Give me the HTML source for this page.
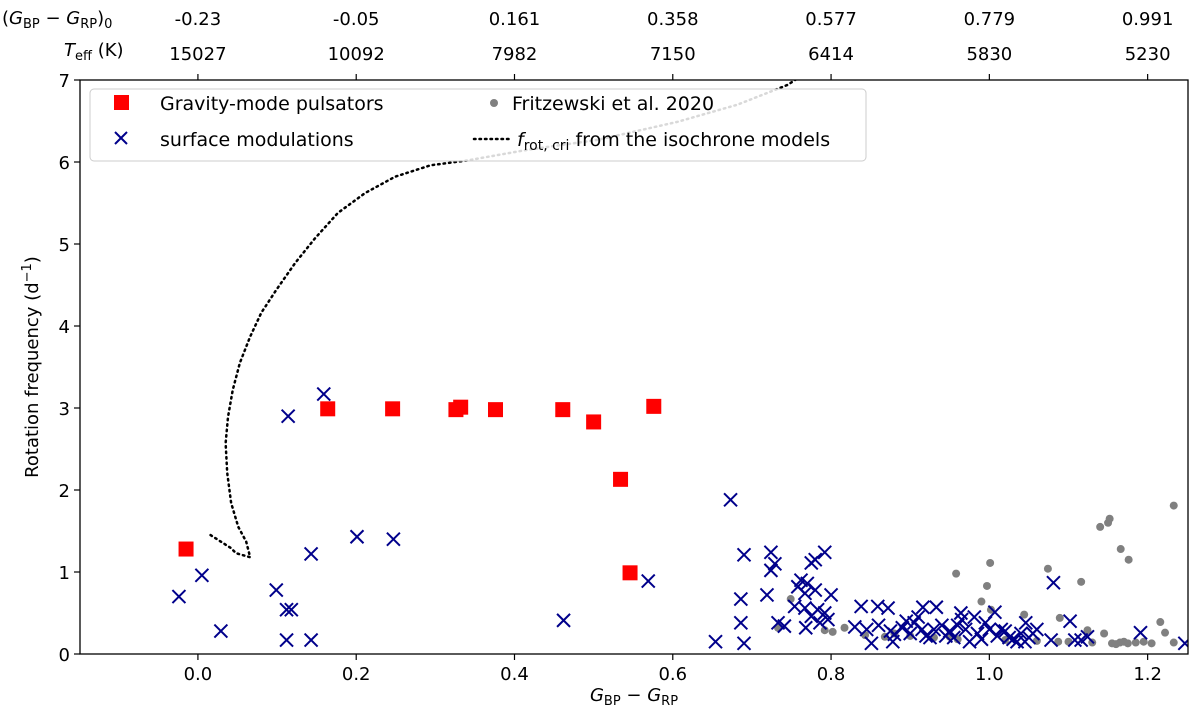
<!DOCTYPE html>
<html><head><meta charset="utf-8"><style>
body{margin:0;background:#fff;}
svg{display:block;font-family:"DejaVu Sans","Liberation Sans",sans-serif;}
</style></head><body>
<svg id="chart" width="1200" height="725" viewBox="0 0 1200 725" xmlns="http://www.w3.org/2000/svg">
<defs><clipPath id="clip"><rect x="80" y="80" width="1108" height="574"/></clipPath></defs>
<g id="plot" clip-path="url(#clip)"></g>
<g id="axes"></g>
<g font-family="DejaVu Sans, Liberation Sans, sans-serif">
<text x="634" y="701" font-size="18" text-anchor="middle"><tspan font-style="italic">G</tspan><tspan font-size="13" dy="4">BP</tspan><tspan dy="-4"> − </tspan><tspan font-style="italic">G</tspan><tspan font-size="13" dy="4">RP</tspan></text>
<text transform="translate(38,367) rotate(-90)" font-size="18" text-anchor="middle">Rotation frequency (d<tspan font-size="13" dy="-7">−1</tspan><tspan dy="7">)</tspan></text>
<text x="2" y="24" font-size="18">(<tspan font-style="italic">G</tspan><tspan font-size="13" dy="4">BP</tspan><tspan dy="-4"> − </tspan><tspan font-style="italic">G</tspan><tspan font-size="13" dy="4">RP</tspan><tspan dy="-4">)</tspan><tspan font-size="13" dy="4">0</tspan></text>
<text x="64" y="56" font-size="18"><tspan font-style="italic">T</tspan><tspan font-size="13" dy="4">eff</tspan><tspan dy="-4"> (K)</tspan></text>
</g>
<g font-family="DejaVu Sans, Liberation Sans, sans-serif" font-size="19">
<rect x="90" y="89" width="776" height="72" rx="4" fill="#fff" fill-opacity="0.85" stroke="#ccc"/>
<rect x="114" y="95" width="15" height="15" fill="#ff0000"/>
<text x="160" y="110">Gravity-mode pulsators</text>
<path d="M115,132L127,144M115,144L127,132" stroke="#00008b" stroke-width="2"/>
<text x="160" y="146">surface modulations</text>
<circle cx="494" cy="103" r="4" fill="#808080"/>
<text x="512" y="110">Fritzewski et al. 2020</text>
<line x1="474" x2="512" y1="139" y2="139" stroke="#000" stroke-width="2.5" stroke-dasharray="1.5,4" stroke-linecap="round"/>
<text x="517" y="146"><tspan font-style="italic">f</tspan><tspan font-size="14" dy="4">rot, cri</tspan><tspan dy="-4"> from the isochrone models</tspan></text>
</g>
</svg>
<script>
const xTicks=[0.0,0.2,0.4,0.6,0.8,1.0,1.2];
const xTickLabels=["0.0","0.2","0.4","0.6","0.8","1.0","1.2"];
const yTicks=[0,1,2,3,4,5,6,7];
const topColorLabels=["-0.23","-0.05","0.161","0.358","0.577","0.779","0.991"];
const topTeffLabels=["15027","10092","7982","7150","6414","5830","5230"];
const gmodeX=[-0.015,0.164,0.246,0.326,0.332,0.376,0.461,0.50,0.534,0.546,0.576];
const gmodeY=[1.28,2.99,2.99,2.98,3.01,2.98,2.98,2.83,2.13,0.99,3.02];
const surfX=[-0.024,0.005,0.029,0.099,0.114,0.112,0.118,0.112,0.143,0.143,0.159,0.201,0.247,0.462,0.569,0.673,0.690,0.686,0.686,0.690,0.654,0.724,0.729,0.724,0.719,0.733,0.741,0.792,0.780,0.775,0.762,0.770,0.758,0.767,0.780,0.800,0.754,0.767,0.783,0.792,0.775,0.796,0.768,0.786,0.838,0.859,0.872,0.830,0.851,0.878,0.845,0.86,0.875,0.89,0.90,0.905,0.915,0.92,0.916,0.933,0.94,0.95,0.955,0.964,0.97,0.981,0.985,0.99,1.0,1.007,1.01,1.02,1.03,1.046,1.04,1.05,1.06,1.078,1.081,1.102,1.108,1.116,1.124,1.191,1.247,0.895,0.91,0.925,0.96,0.975,0.995,1.015,1.035,1.055,0.88,0.945,0.93,0.965,1.025,1.045];
const surfY=[0.70,0.96,0.28,0.78,2.90,0.54,0.54,0.17,0.17,1.22,3.17,1.43,1.40,0.41,0.89,1.88,1.21,0.67,0.38,0.13,0.15,1.24,1.10,1.02,0.72,0.38,0.34,1.24,1.15,1.11,0.90,0.86,0.82,0.74,0.78,0.72,0.58,0.56,0.54,0.50,0.46,0.42,0.32,0.38,0.58,0.58,0.56,0.33,0.13,0.15,0.30,0.35,0.28,0.32,0.25,0.38,0.30,0.22,0.57,0.57,0.35,0.28,0.20,0.50,0.30,0.45,0.25,0.18,0.30,0.51,0.22,0.28,0.18,0.38,0.25,0.20,0.30,0.17,0.87,0.40,0.17,0.17,0.21,0.26,0.13,0.40,0.45,0.20,0.35,0.15,0.38,0.30,0.15,0.25,0.24,0.22,0.30,0.42,0.20,0.15];
const fritzX=[0.749,0.733,0.792,0.802,0.817,0.843,0.868,1.233,1.140,1.152,1.150,1.166,1.176,0.958,1.001,0.997,1.074,1.116,0.99,1.002,1.044,1.089,1.216,1.222,1.124,1.145,1.233,1.087,1.155,1.165,1.175,1.185,1.195,1.205,1.16,1.17,0.9,0.93,0.96,1.02,1.06,1.10,0.88,0.95,1.13];
const fritzY=[0.67,0.32,0.29,0.27,0.32,0.23,0.21,1.81,1.55,1.65,1.60,1.28,1.15,0.98,1.11,0.83,1.04,0.88,0.64,0.54,0.48,0.44,0.39,0.26,0.29,0.25,0.14,0.15,0.13,0.14,0.13,0.14,0.15,0.13,0.12,0.15,0.22,0.20,0.18,0.17,0.16,0.15,0.25,0.21,0.14];
const critX=[0.016,0.042,0.048,0.066,0.061,0.051,0.042,0.037,0.035,0.038,0.044,0.053,0.066,0.080,0.099,0.123,0.148,0.177,0.211,0.249,0.294,0.341,0.417,0.505,0.606,0.682,0.745,0.764];
const critY=[1.45,1.29,1.23,1.18,1.37,1.55,1.84,2.21,2.57,2.89,3.22,3.55,3.87,4.16,4.44,4.77,5.07,5.38,5.62,5.82,5.96,6.02,6.15,6.27,6.49,6.70,6.94,7.06];

const X0=80,X1=1188,Y0=654,Y1=80,xmin=-0.149,xmax=1.251,ymin=0,ymax=7;
const sx=v=>X0+(v-xmin)/(xmax-xmin)*(X1-X0);
const sy=v=>Y0-(v-ymin)/(ymax-ymin)*(Y0-Y1);
const NS="http://www.w3.org/2000/svg";
const plot=document.getElementById('plot'),axes=document.getElementById('axes');
function mk(tag,attrs,parent,text){const e=document.createElementNS(NS,tag);for(const k in attrs)e.setAttribute(k,attrs[k]);if(text!==undefined)e.textContent=text;parent.appendChild(e);return e;}
fritzX.forEach((x,i)=>{const c=mk('circle',{cx:sx(x),cy:sy(fritzY[i]),r:4,fill:'#808080'},plot);

});
surfX.forEach((x,i)=>{const cx=sx(x),cy=sy(surfY[i]),s=6.5;
const p=mk('path',{d:`M${cx-s},${cy-s}L${cx+s},${cy+s}M${cx-s},${cy+s}L${cx+s},${cy-s}`,stroke:'#00008b','stroke-width':2,fill:'none'},plot);

});
gmodeX.forEach((x,i)=>{const r=mk('rect',{x:sx(x)-7.5,y:sy(gmodeY[i])-7.5,width:15,height:15,fill:'#ff0000'},plot);

});
let d=critX.map((x,i)=>(i?'L':'M')+sx(x)+','+sy(critY[i])).join('');
const cl=mk('path',{d:d,stroke:'#000','stroke-width':2.5,'stroke-dasharray':'1.5,4','stroke-linecap':'round','stroke-linejoin':'round',fill:'none'},plot);


const fr=mk('rect',{x:X0,y:Y1,width:X1-X0,height:Y0-Y1,fill:'none',stroke:'#000','stroke-width':1.3},axes);


xTicks.forEach((t,i)=>{const x=sx(t);
mk('line',{x1:x,x2:x,y1:Y0,y2:Y0+6,stroke:'#000','stroke-width':1.2},axes);
mk('line',{x1:x,x2:x,y1:Y1,y2:Y1-6,stroke:'#000','stroke-width':1.2},axes);
const tl=mk('text',{x:x,y:Y0+26,'font-size':18,'text-anchor':'middle'},axes,xTickLabels[i]);


const a=mk('text',{x:x,y:25,'font-size':18,'text-anchor':'middle'},axes,topColorLabels[i]);


const b=mk('text',{x:x,y:60,'font-size':18,'text-anchor':'middle'},axes,topTeffLabels[i]);

});
yTicks.forEach(t=>{const y=sy(t);
mk('line',{x1:X0-6,x2:X0,y1:y,y2:y,stroke:'#000','stroke-width':1.2},axes);
const tl=mk('text',{x:X0-10,y:y+7,'font-size':18,'text-anchor':'end'},axes,String(t));

});
</script>
</body></html>
